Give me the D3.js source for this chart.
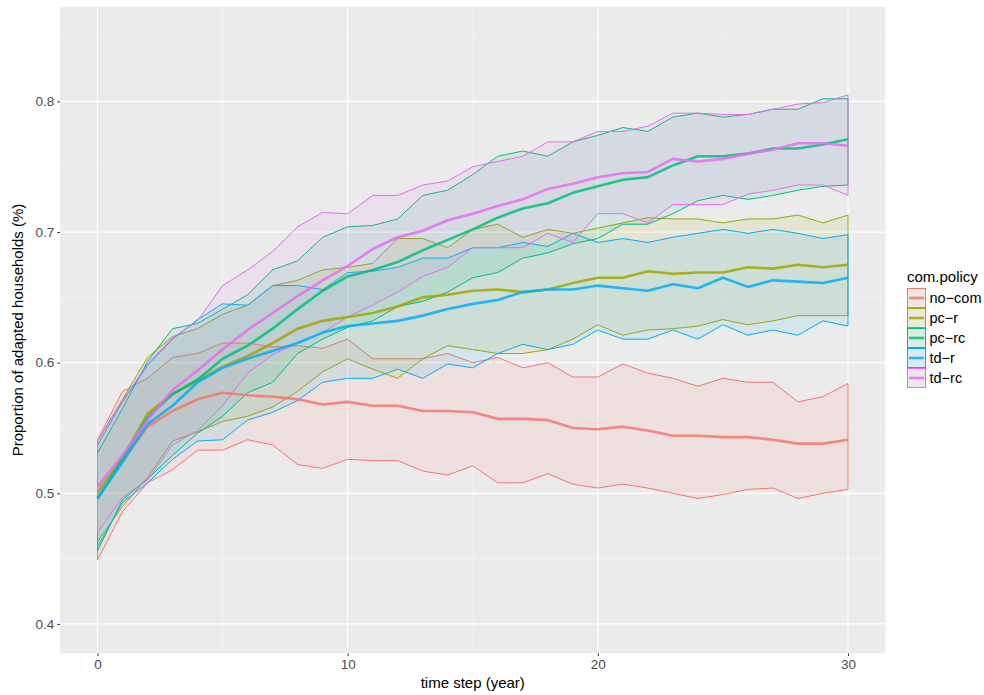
<!DOCTYPE html>
<html>
<head>
<meta charset="utf-8">
<script src="https://cdn.jsdelivr.net/npm/d3@7"></script>
<style>
  body { margin: 0; background: #ffffff; }
  text { font-family: "Liberation Sans", Arial, sans-serif; }
</style>
</head>
<body>
<div id="everything"><svg width="984" height="695"></svg></div>
<script>
let width = +d3.select("svg").attr("width");
let height = +d3.select("svg").attr("height");

let timeSteps = d3.range(0, 31);
let xTicks = [0, 10, 20, 30];
let yTicks = [0.4, 0.5, 0.6, 0.7, 0.8];
let policies = ["no\u2212com", "pc\u2212r", "pc\u2212rc", "td\u2212r", "td\u2212rc"];
let colors = ["#F8766D", "#A3A500", "#00BF7D", "#00B0F6", "#E76BF3"];

let noComMean = [0.497, 0.525, 0.551, 0.563, 0.572, 0.577, 0.575, 0.574, 0.572, 0.568, 0.570,
  0.567, 0.567, 0.563, 0.563, 0.562, 0.557, 0.557, 0.556, 0.550, 0.549,
  0.551, 0.548, 0.544, 0.544, 0.543, 0.543, 0.541, 0.538, 0.538, 0.541];
let noComLo = [0.449, 0.486, 0.508, 0.518, 0.533, 0.533, 0.541, 0.537, 0.522, 0.519, 0.526,
  0.525, 0.525, 0.517, 0.514, 0.521, 0.508, 0.508, 0.515, 0.507, 0.504,
  0.507, 0.504, 0.500, 0.496, 0.499, 0.503, 0.504, 0.496, 0.500, 0.503];
let noComHi = [0.541, 0.578, 0.588, 0.604, 0.607, 0.615, 0.615, 0.612, 0.613, 0.611, 0.618,
  0.603, 0.603, 0.603, 0.607, 0.600, 0.604, 0.596, 0.600, 0.589, 0.589,
  0.599, 0.592, 0.588, 0.582, 0.588, 0.585, 0.585, 0.570, 0.574, 0.584];

let pcRMean = [0.501, 0.527, 0.561, 0.576, 0.586, 0.597, 0.605, 0.615, 0.626, 0.632, 0.635,
  0.638, 0.643, 0.650, 0.652, 0.655, 0.656, 0.654, 0.656, 0.661, 0.665,
  0.665, 0.670, 0.668, 0.669, 0.669, 0.673, 0.672, 0.675, 0.673, 0.675];
let pcRLo = [0.463, 0.490, 0.512, 0.540, 0.547, 0.555, 0.559, 0.566, 0.578, 0.593, 0.603,
  0.595, 0.588, 0.603, 0.613, 0.610, 0.607, 0.607, 0.610, 0.618, 0.629,
  0.621, 0.625, 0.626, 0.628, 0.633, 0.629, 0.632, 0.636, 0.636, 0.636];
let pcRHi = [0.540, 0.572, 0.604, 0.620, 0.626, 0.637, 0.644, 0.659, 0.663, 0.671, 0.673,
  0.676, 0.695, 0.695, 0.688, 0.702, 0.706, 0.696, 0.702, 0.699, 0.703,
  0.707, 0.711, 0.710, 0.710, 0.707, 0.710, 0.710, 0.713, 0.707, 0.713];

let pcRcMean = [0.496, 0.526, 0.558, 0.576, 0.587, 0.603, 0.613, 0.626, 0.641, 0.655, 0.666,
  0.671, 0.677, 0.686, 0.694, 0.702, 0.711, 0.718, 0.722, 0.730, 0.735,
  0.740, 0.742, 0.751, 0.758, 0.758, 0.760, 0.764, 0.764, 0.767, 0.771];
let pcRcLo = [0.456, 0.495, 0.511, 0.529, 0.546, 0.559, 0.577, 0.585, 0.607, 0.618, 0.627,
  0.632, 0.643, 0.647, 0.654, 0.665, 0.669, 0.680, 0.684, 0.691, 0.695,
  0.706, 0.706, 0.714, 0.724, 0.728, 0.725, 0.728, 0.732, 0.735, 0.736];
let pcRcHi = [0.531, 0.565, 0.601, 0.626, 0.630, 0.641, 0.652, 0.671, 0.678, 0.696, 0.704,
  0.705, 0.710, 0.728, 0.732, 0.744, 0.758, 0.762, 0.758, 0.769, 0.774,
  0.780, 0.777, 0.788, 0.791, 0.788, 0.790, 0.794, 0.794, 0.802, 0.802];

let tdRMean = [0.496, 0.524, 0.553, 0.567, 0.585, 0.596, 0.603, 0.609, 0.615, 0.623, 0.628,
  0.630, 0.632, 0.636, 0.641, 0.645, 0.648, 0.654, 0.656, 0.656, 0.659,
  0.657, 0.655, 0.660, 0.657, 0.665, 0.658, 0.663, 0.662, 0.661, 0.665];
let tdRLo = [0.459, 0.493, 0.508, 0.526, 0.540, 0.541, 0.556, 0.562, 0.571, 0.585, 0.588,
  0.588, 0.595, 0.588, 0.599, 0.596, 0.607, 0.614, 0.610, 0.614, 0.625,
  0.618, 0.618, 0.625, 0.618, 0.629, 0.621, 0.625, 0.621, 0.632, 0.628];
let tdRHi = [0.537, 0.570, 0.598, 0.618, 0.633, 0.645, 0.644, 0.659, 0.659, 0.656, 0.669,
  0.670, 0.673, 0.680, 0.680, 0.688, 0.688, 0.692, 0.689, 0.699, 0.692,
  0.695, 0.692, 0.696, 0.699, 0.702, 0.699, 0.702, 0.699, 0.695, 0.698];

let tdRcMean = [0.505, 0.529, 0.556, 0.579, 0.594, 0.610, 0.625, 0.638, 0.651, 0.663, 0.674,
  0.687, 0.696, 0.701, 0.709, 0.714, 0.720, 0.725, 0.733, 0.737, 0.742,
  0.745, 0.746, 0.756, 0.754, 0.756, 0.760, 0.763, 0.768, 0.768, 0.766];
let tdRcLo = [0.470, 0.497, 0.510, 0.537, 0.548, 0.567, 0.592, 0.606, 0.615, 0.623, 0.635,
  0.644, 0.654, 0.666, 0.673, 0.688, 0.688, 0.688, 0.699, 0.692, 0.714,
  0.714, 0.707, 0.721, 0.721, 0.721, 0.729, 0.732, 0.736, 0.736, 0.728];
let tdRcHi = [0.540, 0.571, 0.599, 0.619, 0.632, 0.659, 0.671, 0.685, 0.704, 0.715, 0.714,
  0.728, 0.728, 0.736, 0.739, 0.750, 0.754, 0.758, 0.769, 0.769, 0.777,
  0.777, 0.781, 0.791, 0.791, 0.790, 0.790, 0.794, 0.798, 0.799, 0.805];

let means = [noComMean, pcRMean, pcRcMean, tdRMean, tdRcMean];
let lows = [noComLo, pcRLo, pcRcLo, tdRLo, tdRcLo];
let highs = [noComHi, pcRHi, pcRcHi, tdRHi, tdRcHi];

let series = policies.map(function (p, i) {
  return {
    name: p,
    color: colors[i],
    values: timeSteps.map(function (t, j) {
      return { t: t, mean: means[i][j], lo: lows[i][j], hi: highs[i][j] };
    })
  };
});

let panel = { left: 60, right: 885.5, top: 6.7, bottom: 653.3 };

let x = d3.scaleLinear().domain([-1.5, 31.5]).range([panel.left, panel.right]);
let y = d3.scaleLinear().domain([0.3775, 0.8725]).range([panel.bottom, panel.top]);

let svg = d3.select("svg");

svg
  .append("rect")
  .attr("x", panel.left)
  .attr("y", panel.top)
  .attr("width", panel.right - panel.left)
  .attr("height", panel.bottom - panel.top)
  .attr("fill", "#EBEBEB");

// minor grid
let xMinor = [5, 15, 25];
let yMinor = [0.45, 0.55, 0.65, 0.75, 0.85];
svg
  .selectAll(".xminor")
  .data(xMinor)
  .enter()
  .append("line")
  .attr("x1", function (d) { return x(d); })
  .attr("x2", function (d) { return x(d); })
  .attr("y1", panel.top)
  .attr("y2", panel.bottom)
  .attr("stroke", "#F5F5F5")
  .attr("stroke-width", 0.6);
svg
  .selectAll(".yminor")
  .data(yMinor)
  .enter()
  .append("line")
  .attr("x1", panel.left)
  .attr("x2", panel.right)
  .attr("y1", function (d) { return y(d); })
  .attr("y2", function (d) { return y(d); })
  .attr("stroke", "#F5F5F5")
  .attr("stroke-width", 0.6);

// major grid
svg
  .selectAll(".xmajor")
  .data(xTicks)
  .enter()
  .append("line")
  .attr("x1", function (d) { return x(d); })
  .attr("x2", function (d) { return x(d); })
  .attr("y1", panel.top)
  .attr("y2", panel.bottom)
  .attr("stroke", "#FFFFFF")
  .attr("stroke-width", 1.2);
svg
  .selectAll(".ymajor")
  .data(yTicks)
  .enter()
  .append("line")
  .attr("x1", panel.left)
  .attr("x2", panel.right)
  .attr("y1", function (d) { return y(d); })
  .attr("y2", function (d) { return y(d); })
  .attr("stroke", "#FFFFFF")
  .attr("stroke-width", 1.2);

let area = d3
  .area()
  .x(function (d) { return x(d.t); })
  .y0(function (d) { return y(d.lo); })
  .y1(function (d) { return y(d.hi); });

let line = d3
  .line()
  .x(function (d) { return x(d.t); })
  .y(function (d) { return y(d.mean); });

svg
  .selectAll(".ribbon")
  .data(series)
  .enter()
  .append("path")
  .attr("class", "ribbon")
  .attr("d", function (d) { return area(d.values); })
  .attr("fill", function (d) { return d.color; })
  .attr("fill-opacity", 0.1)
  .attr("stroke", function (d) { return d.color; })
  .attr("stroke-width", 1);

svg
  .selectAll(".meanline")
  .data(series)
  .enter()
  .append("path")
  .attr("class", "meanline")
  .attr("d", function (d) { return line(d.values); })
  .attr("fill", "none")
  .attr("stroke", function (d) { return d.color; })
  .attr("stroke-opacity", 0.85)
  .attr("stroke-width", 2.6)
  .attr("stroke-linejoin", "round");

// axes
let xAxis = svg
  .append("g")
  .attr("transform", "translate(0," + panel.bottom + ")")
  .call(d3.axisBottom(x).tickValues(xTicks).tickSize(2.7).tickPadding(3).tickFormat(d3.format("d")));
let yAxis = svg
  .append("g")
  .attr("transform", "translate(" + panel.left + ",0)")
  .call(d3.axisLeft(y).tickValues(yTicks).tickSize(2.7).tickPadding(3).tickFormat(d3.format(".1f")));

[xAxis, yAxis].forEach(function (g) {
  g.select(".domain").remove();
  g.selectAll(".tick line").attr("stroke", "#333333").attr("stroke-width", 1);
  g.selectAll(".tick text")
    .attr("fill", "#4D4D4D")
    .style("font-size", "13.5px")
    .style("font-family", "'Liberation Sans', Arial, sans-serif");
});

svg
  .append("text")
  .attr("x", (panel.left + panel.right) / 2)
  .attr("y", 688)
  .attr("text-anchor", "middle")
  .style("font-size", "15px")
  .text("time step (year)");

svg
  .append("text")
  .attr("transform", "translate(23," + (panel.top + panel.bottom) / 2 + ") rotate(-90)")
  .attr("text-anchor", "middle")
  .style("font-size", "15px")
  .text("Proportion of adapted households (%)");

// legend
let legend = svg.append("g").attr("transform", "translate(907,288)");
legend
  .append("text")
  .attr("x", 0)
  .attr("y", -6)
  .style("font-size", "15px")
  .text("com.policy");

let item = legend
  .selectAll(".legend-item")
  .data(series)
  .enter()
  .append("g")
  .attr("class", "legend-item")
  .attr("transform", function (d, i) { return "translate(0," + i * 20 + ")"; });

item
  .append("rect")
  .attr("x", 0)
  .attr("y", 0)
  .attr("width", 19)
  .attr("height", 20)
  .attr("fill", "#F2F2F2");
item
  .append("rect")
  .attr("x", 0.5)
  .attr("y", 0.5)
  .attr("width", 18)
  .attr("height", 19)
  .attr("fill", function (d) { return d.color; })
  .attr("fill-opacity", 0.1)
  .attr("stroke", function (d) { return d.color; })
  .attr("stroke-width", 1);
item
  .append("line")
  .attr("x1", 2)
  .attr("x2", 17)
  .attr("y1", 10)
  .attr("y2", 10)
  .attr("stroke", function (d) { return d.color; })
  .attr("stroke-opacity", 0.85)
  .attr("stroke-width", 2.6);
item
  .append("text")
  .attr("x", 22.5)
  .attr("y", 10)
  .attr("dy", "0.35em")
  .style("font-size", "14.5px")
  .text(function (d) { return d.name; });
</script>
</body>
</html>
